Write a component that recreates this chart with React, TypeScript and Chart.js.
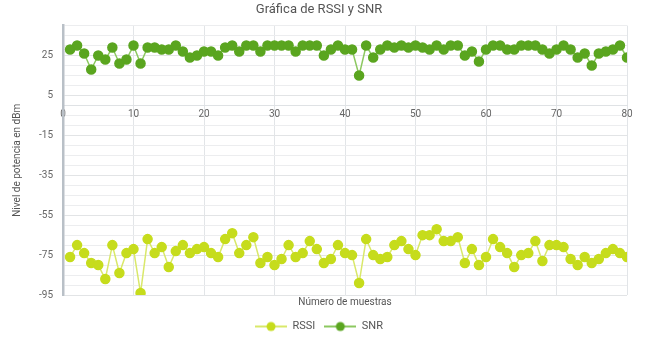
import React, { useEffect, useRef } from "react";
import { Chart, registerables } from "chart.js";

Chart.register(...registerables);

const samples = [
  1, 2, 3, 4, 5, 6, 7, 8, 9, 10, 11, 12, 13, 14, 15, 16, 17, 18, 19, 20,
  21, 22, 23, 24, 25, 26, 27, 28, 29, 30, 31, 32, 33, 34, 35, 36, 37, 38, 39, 40,
  41, 42, 43, 44, 45, 46, 47, 48, 49, 50, 51, 52, 53, 54, 55, 56, 57, 58, 59, 60,
  61, 62, 63, 64, 65, 66, 67, 68, 69, 70, 71, 72, 73, 74, 75, 76, 77, 78, 79, 80,
];

const rssi = [
  -76, -70, -74, -79, -80, -87, -70, -84, -74, -72, -94, -67, -74, -71, -81, -73, -70, -74, -72, -71,
  -74, -76, -67, -64, -74, -70, -66, -79, -76, -80, -77, -70, -76, -74, -68, -72, -79, -77, -70, -74,
  -75, -89, -67, -75, -77, -76, -70, -68, -72, -75, -65, -65, -62, -68, -68, -66, -79, -72, -80, -76,
  -67, -71, -74, -81, -75, -74, -68, -78, -70, -70, -71, -77, -80, -76, -79, -77, -74, -72, -74, -76,
];

const snr = [
  28, 30, 26, 18, 25, 23, 29, 21, 23, 30, 21, 29, 29, 28, 28, 30, 27, 24, 25, 27,
  27, 25, 29, 30, 27, 30, 30, 27, 30, 30, 30, 30, 27, 30, 30, 30, 25, 28, 30, 28,
  28, 15, 30, 24, 28, 30, 29, 30, 29, 30, 29, 28, 30, 28, 30, 30, 25, 27, 22, 28,
  30, 30, 28, 28, 30, 30, 30, 28, 26, 28, 30, 28, 24, 26, 20, 26, 27, 28, 30, 24,
];

const seriesNames = ["RSSI", "SNR"];
const yMin = -95;
const yMax = 40;
const yLabelStep = 20;
const yGridStep = 5;
const xTickStep = 10;

const FONT = "Roboto, 'Liberation Sans', sans-serif";

const rssiPoint = "#c6dc1c";
const rssiLine = "#d9e86a";
const snrPoint = "#5aa51f";
const snrLine = "#8cc860";

function makeIcon(lineColor: string, pointColor: string) {
  const c = document.createElement("canvas");
  c.width = 32;
  c.height = 12;
  const ctx = c.getContext("2d")!;
  ctx.strokeStyle = lineColor;
  ctx.lineWidth = 2;
  ctx.beginPath();
  ctx.moveTo(0, 6);
  ctx.lineTo(32, 6);
  ctx.stroke();
  ctx.fillStyle = pointColor;
  ctx.beginPath();
  ctx.arc(16, 6, 4.5, 0, Math.PI * 2);
  ctx.fill();
  return c;
}

export default function App() {
  const ref = useRef<HTMLCanvasElement>(null);

  useEffect(() => {
    document.body.style.margin = "0";
    const icons = [makeIcon(rssiLine, rssiPoint), makeIcon(snrLine, snrPoint)];
    const chart = new Chart(ref.current!, {
      type: "line",
      data: {
        datasets: [
          {
            label: seriesNames[0],
            data: samples.map((x, i) => ({ x, y: rssi[i] })),
            borderColor: rssiLine,
            backgroundColor: rssiPoint,
            pointBackgroundColor: rssiPoint,
            pointBorderColor: rssiPoint,
            pointRadius: 4.5,
            borderWidth: 1.5,
            tension: 0,
          },
          {
            label: seriesNames[1],
            data: samples.map((x, i) => ({ x, y: snr[i] })),
            borderColor: snrLine,
            backgroundColor: snrPoint,
            pointBackgroundColor: snrPoint,
            pointBorderColor: snrPoint,
            pointRadius: 4.5,
            borderWidth: 1.5,
            tension: 0,
          },
        ],
      },
      options: {
        animation: false,
        responsive: false,
        maintainAspectRatio: false,
        layout: { padding: { left: 11, right: 23, top: 0, bottom: 0 } },
        plugins: {
          title: {
            display: true,
            text: "Gráfica de RSSI y SNR",
            color: "#555",
            font: { family: FONT, size: 13, weight: "normal" },
            padding: { top: 2, bottom: 8 },
          },
          legend: {
            position: "bottom",
            labels: {
              usePointStyle: true,
              pointStyleWidth: 32,
              color: "#555",
              font: { family: FONT, size: 11 },
              padding: 9,
              generateLabels: (ch: any) =>
                ch.data.datasets.map((ds: any, i: number) => ({
                  text: ds.label,
                  pointStyle: icons[i],
                  fillStyle: ds.pointBackgroundColor,
                  strokeStyle: ds.pointBackgroundColor,
                  lineWidth: 0,
                  hidden: false,
                  datasetIndex: i,
                  fontColor: "#555",
                })),
            },
          },
          tooltip: { enabled: false },
        },
        scales: {
          x: {
            type: "linear",
            position: { y: 0 } as any,
            min: 0,
            max: 80,
            ticks: {
              stepSize: xTickStep,
              color: "#666",
              font: { family: FONT, size: 10 },
              padding: 3,
            },
            grid: { color: "#e2e5e8", lineWidth: 1, drawTicks: false },
            border: { color: "#dfe2e5", width: 1 },
          },
          x2: {
            type: "linear",
            position: "bottom",
            min: 0,
            max: 80,
            ticks: { display: false },
            grid: { display: false, drawTicks: false },
            border: { display: false },
            title: {
              display: true,
              text: "Número de muestras",
              color: "#555",
              font: { family: FONT, size: 10 },
              padding: { top: 1, bottom: 4 },
            },
          },
          y: {
            type: "linear",
            min: yMin,
            max: yMax,
            ticks: {
              stepSize: yGridStep,
              autoSkip: false,
              color: "#666",
              font: { family: FONT, size: 10 },
              padding: 10,
              callback: (v: any) => (((Number(v) - yMin) % yLabelStep === 0) ? String(v) : ""),
            },
            grid: {
              color: (ctx: any) =>
                ctx.tick && (ctx.tick.value - yMin) % yLabelStep === 0 ? "#e2e4e6" : "#ecedef",
              lineWidth: 1,
              drawTicks: false,
            },
            border: { color: "#b9c0c7", width: 2.5 },
            title: {
              display: true,
              text: "Nivel de potencia en dBm",
              color: "#555",
              font: { family: FONT, size: 10 },
              padding: { top: 0, bottom: 6 },
            },
          },
        },
      },
    });
    return () => chart.destroy();
  }, []);

  return (
    <div style={{ width: 650, height: 342, background: "#fff" }}>
      <canvas ref={ref} width={650} height={342} style={{ display: "block" }} />
    </div>
  );
}
